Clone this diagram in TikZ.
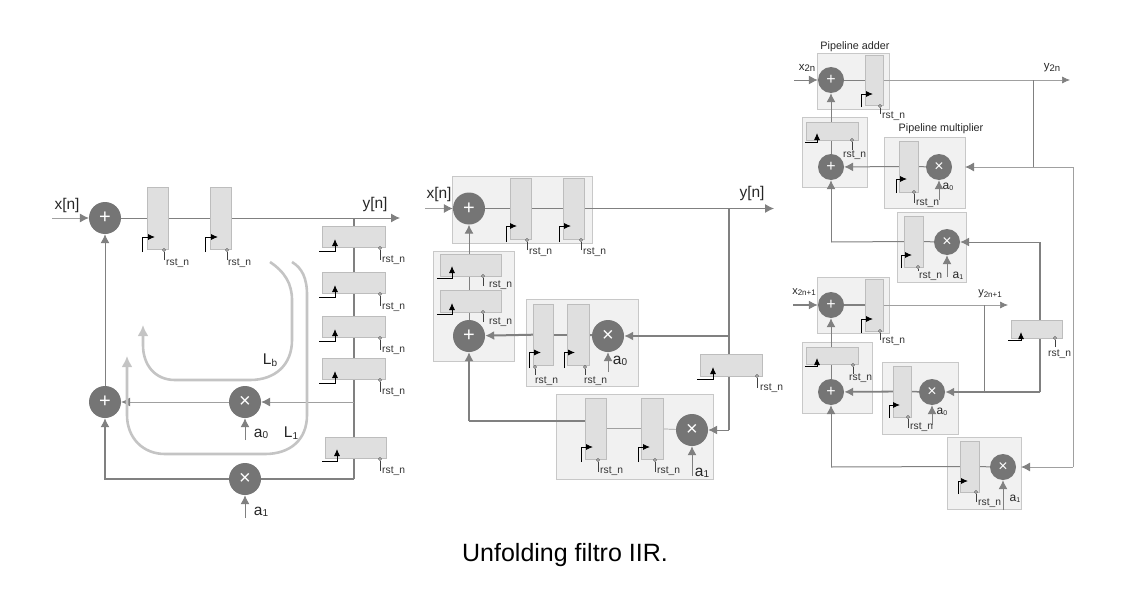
\documentclass[tikz,border=0pt]{standalone}
\usepackage{fontspec}
\setmainfont{Liberation Sans}
\usetikzlibrary{arrows.meta,calc}
\pgfdeclarelayer{panel}\pgfdeclarelayer{wires}
\pgfsetlayers{panel,wires,main}
\definecolor{wirec}{HTML}{808080}
\definecolor{opc}{HTML}{757575}
\definecolor{regf}{HTML}{DFDFDF}
\definecolor{regd}{HTML}{BDBDBD}
\definecolor{panf}{HTML}{F1F1F1}
\definecolor{pand}{HTML}{C8C8C8}
\definecolor{loopc}{HTML}{C4C4C4}
\newcounter{autoid}
\newcommand{\fs}[1]{\fontsize{#1}{#1}\selectfont}
\newcommand{\subt}[3]{#1\raisebox{-1.5pt}{\fs{#3}#2}}
\tikzset{
  x=1pt,y=-1pt,
  wire/.style={draw=wirec,line width=1pt},
  thinw/.style={draw=wirec!75,line width=.7pt},
  thickw/.style={draw=wirec,line width=2pt},
  arr/.style={-{Latex[length=9pt,width=9pt,color=wirec]}},
  arrs/.style={-{Latex[length=8pt,width=7pt,color=wirec]}},
  op/.style={circle,fill=opc,draw=none,inner sep=0pt,text=white},
  bigop/.style={op,minimum size=32pt,font=\fs{20}},
  smallop/.style={op,minimum size=26pt,font=\fs{16}},
  lab/.style={inner sep=0pt,anchor=center,text=black!85},
  rsttxt/.style={inner sep=0pt,anchor=base west,font=\fs{10.3},text=black!80},
  clk/.style={draw=black,line width=.9pt},
  tip/.style={-{Latex[length=7pt,width=6pt,color=black]}},
  loopl/.style={draw=loopc,line width=2.6pt,-{Latex[length=11pt,width=11pt,color=loopc]}},
}
% register box: name x0 y0 x1 y1
\newcommand{\reg}[5]{\node[fill=regf,draw=regd,line width=.7pt,inner sep=0pt,outer sep=0pt,
  minimum width={(#4-#2)*1pt},minimum height={(#5-#3)*1pt}] (#1) at ({(#2+#4)/2},{(#3+#5)/2}) {};}
\newcommand{\panelbox}[5]{\begin{pgfonlayer}{panel}\node[fill=panf,draw=pand,line width=.8pt,inner sep=0pt,outer sep=0pt,
  minimum width={(#4-#2)*1pt},minimum height={(#5-#3)*1pt}] (#1) at ({(#2+#4)/2},{(#3+#5)/2}) {};\end{pgfonlayer}}
% clock on tall register: x, ybottom, ymid, xtip
\newcommand{\clkv}[4]{\draw[clk] (#1,#2) -- (#1,#3) -- (#4-5,#3);\draw[clk,tip] (#4-7,#3) -- (#4,#3);}
% clock on wide register: xstart, ybottom, xup, ytip
\newcommand{\clkh}[4]{\draw[clk] (#1,#2) -- (#3,#2) -- (#3,#4+5);\draw[clk,tip] (#3,#4+7) -- (#3,#4);}
% reset pin: x ytop ybottom textx textbaseline
\newcommand{\rst}[5]{\stepcounter{autoid}\draw[draw=black!75,line width=.6pt] (#1,#3) -- (#1,#2+1.5);\draw[draw=black!75,line width=.5pt,fill=white] (#1,#2) circle (1.5pt);
  \node[rsttxt] (rst\theautoid) at (#4,#5) {rst\_n};}
\begin{document}
\begin{tikzpicture}
\useasboundingbox (0,0) rectangle (1143,610);
%% ---------- first diagram
\node[bigop] (A1) at (105,218) {+};
\node[bigop] (A2) at (105,402) {+};
\node[bigop] (M1) at (245,402) {×};
\node[bigop] (M2) at (245,479) {×};
\reg{R1}{147}{187}{168}{249}\reg{R2}{210}{187}{231}{249}
\reg{H1}{322}{226}{385}{247}\reg{H2}{322}{272}{385}{293}
\reg{H3}{322}{316}{385}{337}\reg{H4}{322}{358}{385}{379}
\reg{H5}{325}{437}{386}{458}
\coordinate (xin) at (52,218);\coordinate (yout) at (400,218);
\coordinate (ytop) at (354,218);\coordinate (ya0) at (354,402);\coordinate (ybot) at (354,479);
\coordinate (a0in) at (245,440);\coordinate (a1in) at (245,518);
\node[lab,font=\fs{15.5}] (xlab) at (67,205) {x[n]};
\node[lab,font=\fs{15.5}] (ylab) at (375,204) {y[n]};
\node[lab,font=\fs{15.5}] (a0lab) at (261,434) {\subt{a}{0}{10}};
\node[lab,font=\fs{15.5}] (a1lab) at (261,512) {\subt{a}{1}{10}};
\node[lab,font=\fs{15.5}] (Lb) at (270,360) {\subt{L}{b}{10}};
\node[lab,font=\fs{15.5}] (L1) at (291,433) {\subt{L}{1}{10}};
\begin{pgfonlayer}{wires}
\draw[thinw,arr] (xin) -- (A1);
\draw[wire] (A1) -- (R1);\draw[wire] (R1) -- (R2);
\draw[wire,arr] (R2) -- (yout);
\draw[wire,line width=1.3pt] (ytop) -- (ybot);
\draw[thinw,arr] (ya0) -- (M1);
\draw[thinw,arr] (M1) -- (A2);
\draw[wire,line width=1.2pt] (ybot) -- (M2);
\draw[wire,line width=1.2pt,arr] (M2) -| (A2);
\draw[wire,arr] (A2) -- (A1);
\draw[wire,arr] (a0in) -- (M1);
\draw[wire,arr] (a1in) -- (M2);
\end{pgfonlayer}
\clkv{142}{252}{237}{155}\clkv{205}{252}{237}{218}
\rst{164}{250}{260}{166}{265}\rst{227}{250}{260}{228}{265}
\clkh{319}{251}{335}{239}\clkh{319}{297}{335}{285}\clkh{319}{341}{335}{329}\clkh{319}{383}{335}{371}\clkh{322}{461}{337}{449}
\rst{380}{248}{260}{382}{262}\rst{380}{294}{306}{382}{309}\rst{380}{338}{350}{382}{352}\rst{380}{380}{392}{382}{394}\rst{380}{459}{471}{382}{473}
\draw[loopl] (270,262) .. controls (285,272) and (292,284) .. (292,300) -- (292,340) .. controls (292,365) and (275,380) .. (250,380) -- (175,380) .. controls (155,380) and (143,365) .. (143,345) -- (143,325);
\draw[loopl] (292,262) .. controls (302,268) and (307,278) .. (307,295) -- (307,415) .. controls (307,440) and (290,454) .. (265,454) -- (165,454) .. controls (143,454) and (127,438) .. (127,415) -- (127,356);
%% ---------- second diagram
\panelbox{P1}{452}{176}{592}{243}\panelbox{P2}{433}{251}{514}{361}
\panelbox{P3}{526}{299}{638}{386}\panelbox{P4}{556}{394}{713}{479}
\node[bigop] (B1) at (469,208.5) {+};
\node[bigop] (B2) at (469,336) {+};
\node[bigop] (B3) at (608,336) {×};
\node[bigop] (B4) at (692,430) {×};
\reg{S1}{510}{178}{531}{239}\reg{S2}{563}{178}{584}{239}
\reg{S3}{440}{254}{501}{276}\reg{S4}{440}{290}{501}{312}
\reg{S5}{533}{304}{553}{365}\reg{S6}{567}{304}{589}{365}
\reg{S7}{585}{398}{606}{459}\reg{S8}{641}{398}{663}{459}
\reg{S9}{700}{354}{762}{376}
\coordinate (x2in) at (425,208.5);\coordinate (y2out) at (774,208.5);
\coordinate (y2top) at (729,208.5);\coordinate (y2a) at (729,336);\coordinate (y2b) at (729,430);
\coordinate (b3in) at (608,372);\coordinate (b4in) at (692,476);
\coordinate (fb) at (469,421);
\node[lab,font=\fs{15.5}] (x2lab) at (439,194) {x[n]};
\node[lab,font=\fs{15.5}] (y2lab) at (752,193) {y[n]};
\node[lab,font=\fs{15.5}] (b3lab) at (620,361) {\subt{a}{0}{10}};
\node[lab,font=\fs{15.5}] (b4lab) at (702,473) {\subt{a}{1}{10}};
\begin{pgfonlayer}{wires}
\draw[thinw,arr] (x2in) -- (B1);
\draw[wire] (B1) -- (S1);\draw[wire] (S1) -- (S2);
\draw[wire,arr] (S2) -- (y2out);
\draw[wire,line width=1.5pt] (y2top) -- (y2b);
\draw[wire,line width=1.5pt,arr] (y2a) -- (B3);
\draw[wire,arr] (y2b) -- (B4);
\draw[thickw] (B3) -- (S6);\draw[thickw] (S6) -- (S5);
\draw[thickw,arr] (S5) -- (B2);
\draw[wire,arr] (B2) -- (B1);
\draw[wire,line width=1.4pt] (S7.west |- fb) -- (fb);
\draw[wire,line width=1.4pt,arr] (fb) -- (B2);
\draw[thinw] (B4) -- (S8);\draw[thinw] (S8) -- (S7);
\draw[wire,arr] (b3in) -- (B3);
\draw[wire,arr] (b4in) -- (B4);
\end{pgfonlayer}
\clkv{506}{242}{226}{517}\clkv{559}{242}{226}{571}
\rst{527}{240}{250}{529}{254}\rst{581}{240}{250}{583}{254}
\clkh{437}{278}{452}{266}\clkh{437}{314}{452}{303}
\rst{483}{276}{286}{489}{287}\rst{483}{312}{322}{489}{324}
\clkv{529}{368}{352.5}{541}\clkv{564}{368}{352.5}{575}
\rst{535}{367}{375}{535}{383}\rst{585}{367}{375}{584}{383}
\clkv{581}{462}{447}{593}\clkv{638}{462}{447}{650}
\rst{598}{460}{472}{600}{473}\rst{655}{460}{472}{657}{473}
\clkh{697}{379}{713}{367}\rst{757}{376}{388}{760}{390}
%% ---------- third diagram
\panelbox{Pa}{817}{53}{889}{109}\panelbox{Pb}{802}{117}{867}{187}
\panelbox{Pc}{884}{137}{965}{208}\panelbox{Pd}{897}{212}{966}{282}
\panelbox{Pe}{817}{277}{889}{333}\panelbox{Pf}{802}{342}{872}{413}
\panelbox{Pg}{882}{362}{958}{434}\panelbox{Ph}{947}{437}{1021}{509}
\node[smallop] (C1) at (831,80) {+};
\node[smallop] (C2) at (831,167) {+};
\node[smallop] (C3) at (939,167) {×};
\node[smallop] (C4) at (947,242) {×};
\node[smallop] (C5) at (831,305) {+};
\node[smallop] (C6) at (831,392) {+};
\node[smallop] (C7) at (932,392) {×};
\node[smallop] (C8) at (1003,467) {×};
\reg{T1}{865}{55}{883}{105}\reg{T2}{806}{122}{858}{140}
\reg{T3}{899}{141}{918}{192}\reg{T4}{904}{216}{923}{267}
\reg{T5}{865}{279}{883}{331}\reg{T6}{806}{347}{858}{364}
\reg{T7}{893}{366}{911}{417}\reg{T8}{960}{441}{979}{492}
\reg{T9}{1011}{320}{1062}{338}
\coordinate (x3in) at (794,80);\coordinate (y3out) at (1070,80);
\coordinate (x4in) at (793,305);\coordinate (y4out) at (1008,305);
\coordinate (j1) at (1033,80);\coordinate (j2) at (1033,167);\coordinate (j3) at (1073,167);\coordinate (j4) at (1073,467);
\coordinate (k1) at (1040,242);\coordinate (k2) at (1040,392);\coordinate (k3) at (984,305);\coordinate (k4) at (984,392);
\coordinate (c3in) at (939,200);\coordinate (c4in) at (947,277);\coordinate (c7in) at (932,425);\coordinate (c8in) at (1003,510);
\coordinate (f1) at (831,242);\coordinate (f2) at (831,467);
\node[lab,font=\fs{10.8}] (padd) at (855,46.5) {Pipeline adder};
\node[lab,font=\fs{10.8}] (pmul) at (941,129) {Pipeline multiplier};
\node[lab,font=\fs{11.5}] (x3lab) at (807,68) {\subt{x}{2n}{9.5}};
\node[lab,font=\fs{11.5}] (y3lab) at (1052,68) {\subt{y}{2n}{9.5}};
\node[lab,font=\fs{11}] (x4lab) at (804,292) {\subt{x}{2n+1}{8}};
\node[lab,font=\fs{11}] (y4lab) at (990,294) {\subt{y}{2n+1}{8}};
\node[lab,font=\fs{12}] (c3lab) at (948,187) {\subt{a}{0}{7}};
\node[lab,font=\fs{12}] (c4lab) at (958,276) {\subt{a}{1}{7}};
\node[lab,font=\fs{12}] (c7lab) at (942,412) {\subt{a}{0}{7}};
\node[lab,font=\fs{12}] (c8lab) at (1015,499) {\subt{a}{1}{7}};
\begin{pgfonlayer}{wires}
\draw[wire,arr] (x3in) -- (C1);
\draw[wire] (C1) -- (T1);
\draw[thinw,arrs] (T1) -- (y3out);
\draw[wire] (j1) -- (j2);
\draw[thinw,line width=1pt] (j2) -- (j3) -- (j4);
\draw[thinw,line width=1pt,arr] (j2) -- (Pc.east |- j2);
\draw[thinw,line width=1pt,arr] (j4) -- (Ph.east |- j4);
\draw[wire,arr] (C2) -- (C1);
\draw[wire] (C3) -- (T3);
\draw[wire,arr] (T3) -- (C2);
\draw[wire,line width=1.5pt] (k1) -- (k2);
\draw[wire,arr] (k1) -- (C4);
\draw[wire] (C4) -- (T4);
\draw[wire] (T4) -- (f1);
\draw[wire,arr] (f1) -- (C2);
\draw[wire,arr] (c3in) -- (C3);
\draw[wire,arr] (c4in) -- (C4);
\draw[wire,line width=1.2pt,arr] (x4in) -- (C5);
\draw[wire,line width=1.3pt] (C5) -- (T5);
\draw[thinw,arrs] (T5) -- (y4out);
\draw[wire] (k3) -- (k4);
\draw[wire,line width=1.8pt,arr] (k2) -- (C7);
\draw[wire,line width=1.5pt] (C7) -- (T7);
\draw[wire,line width=1.8pt,arr] (T7) -- (C6);
\draw[wire,arr] (C6) -- (C5);
\draw[wire,arr] (f2) -- (C6);
\draw[wire] (T8) -- (f2);
\draw[wire] (C8) -- (T8);
\draw[wire,arr] (c7in) -- (C7);
\draw[wire,arr] (c8in) -- (C8);
\end{pgfonlayer}
\clkv{861}{107}{94}{873}\rst{880}{106}{114}{882}{118}
\clkh{805}{142}{817}{133}\rst{852}{140}{150}{843}{157}
\clkv{896}{193}{179}{907}\rst{914}{192}{203}{916}{205}
\clkv{901}{268}{255}{912}\rst{918}{267}{271}{919}{278}
\clkv{861}{333}{319}{873}\rst{880}{331}{340}{882}{343}
\clkh{805}{366}{817}{358}\rst{853}{365}{374}{849}{380}
\clkv{889}{418}{405}{900}\rst{908}{417}{428}{910}{429}
\clkv{958}{494}{481}{968}\rst{976}{492}{502}{978}{505}
\clkh{1008}{340}{1021}{332}\rst{1055}{338}{347}{1048}{356}
%% ---------- caption
\node[lab,font=\fs{25},text=black] (caption) at (565,555) {Unfolding filtro IIR.};
\end{tikzpicture}
\end{document}
